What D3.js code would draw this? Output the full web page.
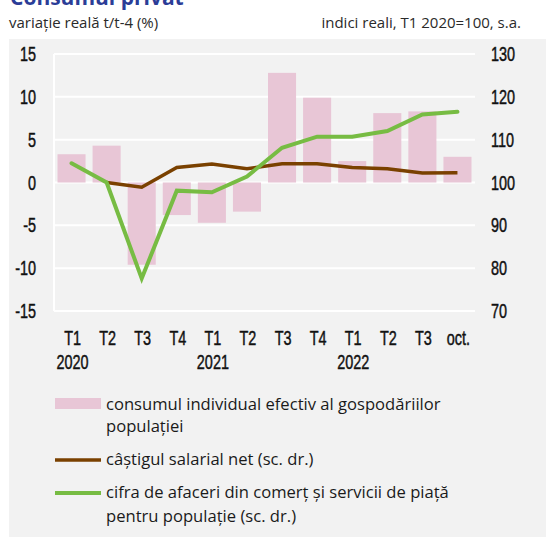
<!DOCTYPE html>
<html lang="ro">
<head>
    <meta charset="UTF-8">
    <title>Consumul privat</title>
    <script src="https://cdn.jsdelivr.net/npm/d3@7"></script>
    <style>
        body { margin: 0; background: #ffffff; }
        svg { display: block; }
        .cond { font-family: "Liberation Sans", Arial, sans-serif; font-size: 19.5px; fill: #111111; stroke: #111111; stroke-width: 0.45px; }
        .reg { font-family: "Open Sans", "Noto Sans", sans-serif; }
    </style>
</head>
<body>
<svg id="chart" width="546" height="539"></svg>
<script>
    // data
    var quarters = ["T1", "T2", "T3", "T4", "T1", "T2", "T3", "T4", "T1", "T2", "T3", "oct."];
    var years = ["2020", "", "", "", "2021", "", "", "", "2022", "", "", ""];
    // consumul individual efectiv (%, left axis)
    var consum = [3.3, 4.3, -9.6, -3.8, -4.7, -3.4, 12.8, 9.9, 2.5, 8.1, 8.3, 3.0];
    // castigul salarial net (index, right axis)
    var castig = [null, 100.0, 98.9, 103.5, 104.3, 103.2, 104.4, 104.4, 103.5, 103.2, 102.2, 102.3];
    // cifra de afaceri (index, right axis)
    var cifra = [104.5, 100.0, 77.6, 98.1, 97.7, 101.4, 108.1, 110.7, 110.7, 112.0, 115.9, 116.5];
    var leftTicks = [15, 10, 5, 0, -5, -10, -15];
    var rightTicks = [130, 120, 110, 100, 90, 80, 70];

    var squeeze = 0.74; // the original uses a condensed face

    var svg = d3.select("#chart");

    // gray panel
    svg.append("rect")
        .attr("x", 9).attr("y", 39)
        .attr("width", 537).attr("height", 498)
        .attr("fill", "#f2f2f2");

    // title (cut at top) and subtitles
    svg.append("text")
        .attr("x", 10).attr("y", 5)
        .attr("class", "reg")
        .style("font-size", "21px").style("font-weight", "bold")
        .attr("fill", "#2b3d97")
        .text("Consumul privat");
    svg.append("text")
        .attr("x", 9).attr("y", 28)
        .attr("class", "reg")
        .style("font-size", "15px")
        .attr("fill", "#2a2a2a")
        .text("variație reală t/t-4 (%)");
    svg.append("text")
        .attr("x", 521).attr("y", 28)
        .attr("class", "reg")
        .attr("text-anchor", "end")
        .style("font-size", "15px")
        .attr("fill", "#2a2a2a")
        .text("indici reali, T1 2020=100, s.a.");

    var x = d3.scaleBand()
        .domain(d3.range(quarters.length))
        .range([54, 475])
        .paddingInner(0.2)
        .paddingOuter(0.1);

    var yL = d3.scaleLinear().domain([-15, 15]).range([311, 54]);
    var yR = d3.scaleLinear().domain([70, 130]).range([311, 54]);

    function place(px, py) {
        return "translate(" + px + "," + py + ") scale(" + squeeze + ",1)";
    }

    // gridlines
    svg.append("g").selectAll("line")
        .data(leftTicks)
        .enter().append("line")
        .attr("x1", 54).attr("x2", 475)
        .attr("y1", function(d) { return yL(d); })
        .attr("y2", function(d) { return yL(d); })
        .attr("stroke", "#ffffff").attr("stroke-width", 2);
    svg.append("line")
        .attr("x1", 54).attr("x2", 54)
        .attr("y1", yL(15)).attr("y2", yL(-15))
        .attr("stroke", "#ffffff").attr("stroke-width", 2);

    // axis labels
    svg.append("g").selectAll("text")
        .data(leftTicks)
        .enter().append("text")
        .attr("class", "cond")
        .attr("transform", function(d) { return place(36, yL(d) + 7); })
        .attr("text-anchor", "end")
        .text(function(d) { return d; });
    svg.append("g").selectAll("text")
        .data(rightTicks)
        .enter().append("text")
        .attr("class", "cond")
        .attr("transform", function(d) { return place(491, yR(d) + 7); })
        .text(function(d) { return d; });

    svg.append("g").selectAll("text")
        .data(quarters)
        .enter().append("text")
        .attr("class", "cond")
        .attr("transform", function(d, i) { return place(x(i) + x.bandwidth() / 2 + 1, 345); })
        .attr("text-anchor", "middle")
        .text(function(d) { return d; });
    svg.append("g").selectAll("text")
        .data(years)
        .enter().append("text")
        .attr("class", "cond")
        .attr("transform", function(d, i) { return place(x(i) + x.bandwidth() / 2 + 1, 369); })
        .attr("text-anchor", "middle")
        .text(function(d) { return d; });

    // bars
    svg.append("g").selectAll("rect")
        .data(consum)
        .enter().append("rect")
        .attr("x", function(d, i) { return x(i); })
        .attr("width", x.bandwidth())
        .attr("y", function(d) { return yL(Math.max(0, d)); })
        .attr("height", function(d) { return Math.abs(yL(d) - yL(0)); })
        .attr("fill", "#e8c6d6");

    // lines
    var line = d3.line()
        .defined(function(d) { return d !== null; })
        .x(function(d, i) { return x(i) + x.bandwidth() / 2; })
        .y(function(d) { return yR(d); });

    svg.append("path")
        .datum(castig)
        .attr("d", line)
        .attr("fill", "none")
        .attr("stroke", "#7a4100")
        .attr("stroke-width", 3.5);
    svg.append("path")
        .datum(cifra)
        .attr("d", line)
        .attr("fill", "none")
        .attr("stroke", "#77bc43")
        .attr("stroke-width", 4)
        .attr("stroke-linecap", "round");

    // legend
    var legend = svg.append("g");
    legend.append("rect")
        .attr("x", 55).attr("y", 398)
        .attr("width", 46).attr("height", 11)
        .attr("fill", "#e8c6d6");
    legend.append("line")
        .attr("x1", 55).attr("x2", 101)
        .attr("y1", 460).attr("y2", 460)
        .attr("stroke", "#7a4100").attr("stroke-width", 3.5);
    legend.append("line")
        .attr("x1", 55).attr("x2", 101)
        .attr("y1", 493).attr("y2", 493)
        .attr("stroke", "#77bc43").attr("stroke-width", 4);

    var legendLines = [
        ["consumul individual efectiv al gospodăriilor", 410],
        ["populației", 432],
        ["câștigul salarial net (sc. dr.)", 465],
        ["cifra de afaceri din comerț și servicii de piață", 498],
        ["pentru populație (sc. dr.)", 522]
    ];
    legend.selectAll("text")
        .data(legendLines)
        .enter().append("text")
        .attr("class", "reg")
        .attr("x", 106)
        .attr("y", function(d) { return d[1]; })
        .style("font-size", "16.6px")
        .attr("fill", "#1a1a1a")
        .text(function(d) { return d[0]; });
</script>
</body>
</html>
